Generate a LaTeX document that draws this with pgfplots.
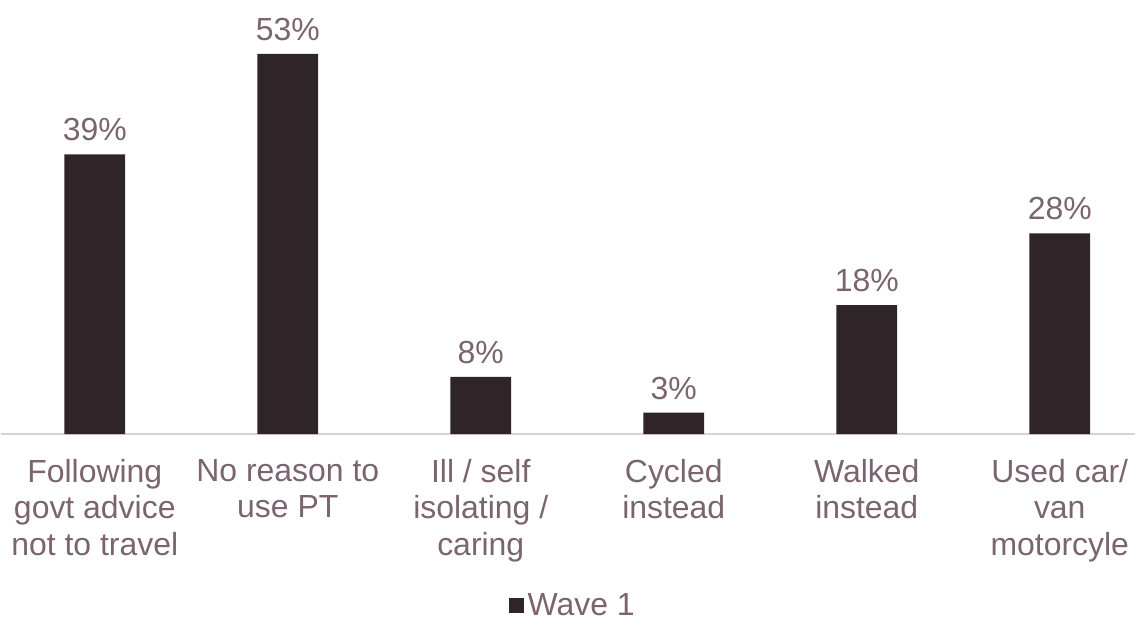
\documentclass[border=0pt]{standalone}
\usepackage{pgfplots}
\pgfplotsset{compat=1.18}
\usepackage{fontspec}
\setmainfont{Liberation Sans}
\definecolor{barcol}{HTML}{2F2428}
\definecolor{txtcol}{HTML}{7A6470}
\definecolor{axcol}{HTML}{D9D1D5}
\begin{document}
\begin{tikzpicture}
\begin{axis}[
    scale only axis,
    width=568pt, height=217.5pt,
    ymin=0, ymax=60.5,
    xmin=-0.486, xmax=5.39,
    hide y axis,
    axis x line*=bottom,
    x axis line style={color=axcol, line width=1pt, -},
    xtick=data,
    xtick style={draw=none},
    xticklabels={{Following\\govt advice\\not to travel},{No reason to\\use PT},{Ill / self\\isolating /\\caring},{Cycled\\instead},{Walked\\instead},{Used car/\\van\\motorcyle}},
    xticklabel style={align=center, text=txtcol, font=\fontsize{16}{18.3}\selectfont, yshift=-9pt},
    /pgf/number format/assume math mode=true,
    nodes near coords={\pgfmathprintnumber{\pgfplotspointmeta}\%},
    nodes near coords style={text=txtcol, font=\fontsize{16}{18}\selectfont, yshift=3pt},
    legend style={draw=none, at={(0.505,-0.395)}, anchor=center, font=\fontsize{16}{18}\selectfont, text=txtcol},
    legend image code/.code={\fill[barcol] (0pt,-3.5pt) rectangle (7.5pt,4pt);},
]
\addplot[ybar, bar width=30.5pt, fill=barcol, draw=none] coordinates {
    (0,39) (1,53) (2,8) (3,3) (4,18) (5,28)
};
\addlegendentry{Wave 1}
\path (rel axis cs:0,0) -- (rel axis cs:1,1);
\end{axis}
\end{tikzpicture}
\end{document}
